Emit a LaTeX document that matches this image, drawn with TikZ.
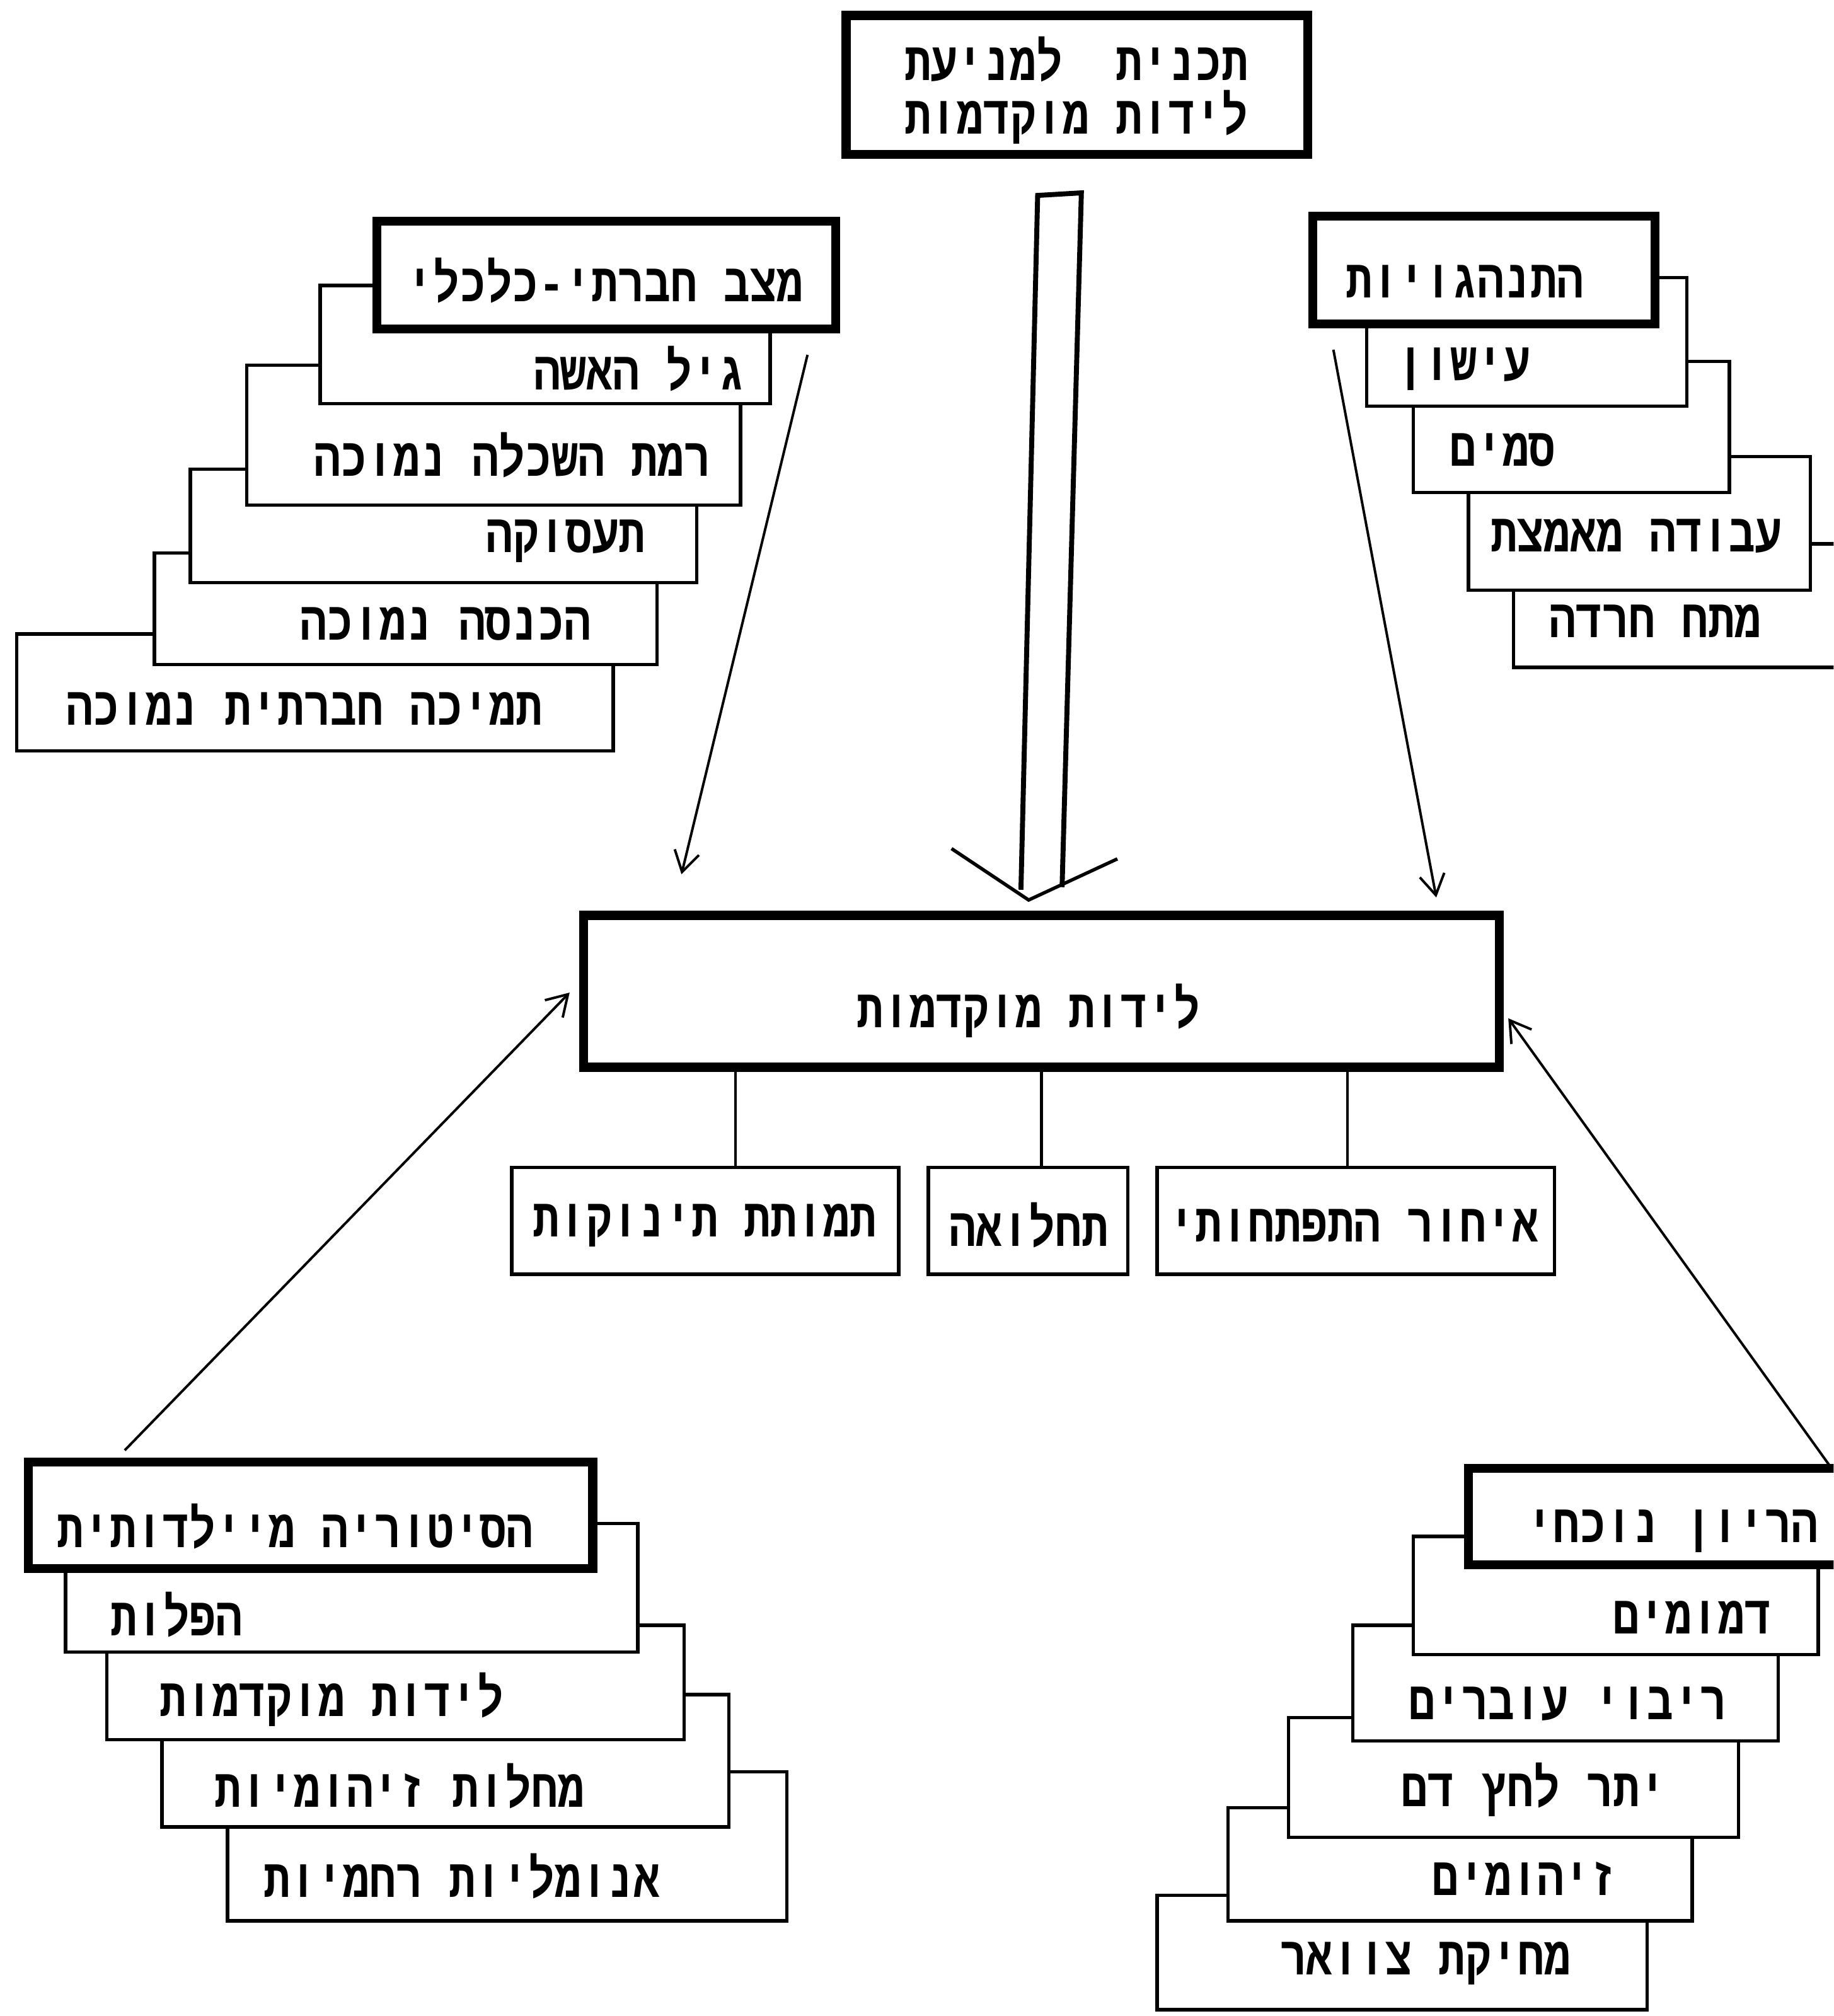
\documentclass[tikz,border=0pt]{standalone}
\usepackage{graphicx}
\usepackage{fontspec}
\usetikzlibrary{arrows.meta,fit}
\TeXXeTstate=1
\newfontfamily\hebfont[Script=Hebrew]{Liberation Mono}
\newcommand{\hb}[1]{\scalebox{1}[1.22]{\beginR #1\endR}}
\begin{document}
\begin{tikzpicture}[x=0.02cm,y=-0.02cm,
  thinbox/.style={draw,fill=white,line width=1.5pt,inner sep=0pt},
  thickbox/.style={draw,fill=white,line width=4pt,inner sep=0pt},
  lbl/.style={font=\hebfont\bfseries\fontsize{19.5}{23}\selectfont,inner sep=0pt},
  link/.style={line width=1.2pt},
  arr/.style={line width=1.1pt,-{Straight Barb[length=9pt,width=11pt,line width=1.1pt]}},
  shaft/.style={line width=2.2pt},
  vhead/.style={line width=1.5pt}]
\useasboundingbox (0,0) rectangle (1426,1568);
\clip (0,0) rectangle (1426,1568);

% ---- top box
\node[thickbox,fit={(658,12) (1017,120)}] (top) {};
\node[lbl] (top1) at (837,46) {\hb{תכנית~~למניעת}};
\node[lbl] (top2) at (837,91) {\hb{לידות מוקדמות}};

% ---- central double arrow
\coordinate (sl1) at (807,152); \coordinate (sr1) at (841,150);
\coordinate (sl2) at (794,692); \coordinate (sr2) at (826,690);
\coordinate (va) at (740,660); \coordinate (vt) at (800,700); \coordinate (vb) at (869,668);
\draw[shaft] (sl2) -- (sl1) -- (sr1) -- (sr2);
\draw[vhead] (va) -- (vt) -- (vb);

% ---- upper-left group (back to front)
\node[thinbox,fit={(13,493) (477,584)}] (tmicha) {};
\node[thinbox,fit={(120,430) (511,517)}] (hachnasa) {};
\node[thinbox,fit={(148,365) (542,453)}] (taasuka) {};
\node[thinbox,fit={(192,284) (576,393)}] (ramat) {};
\node[thinbox,fit={(249,222) (599,314)}] (gil) {};
\node[thickbox,fit={(293,172) (650,256)}] (social) {};
\node[lbl,anchor=east] (tsocial) at (625,218) {\hb{מצב חברתי-כלכלי}};
\node[lbl,anchor=east] (tgil) at (580,287) {\hb{גיל האשה}};
\node[lbl,anchor=east] (tramat) at (553,354) {\hb{רמת השכלה נמוכה}};
\node[lbl,anchor=east] (ttaasuka) at (502,421) {\hb{תעסוקה}};
\node[lbl,anchor=east] (thachnasa) at (460,485) {\hb{הכנסה נמוכה}};
\node[lbl,anchor=east] (ttmicha) at (422,551) {\hb{תמיכה חברתית נמוכה}};

% ---- upper-right group
\node[thinbox,fit={(1177,423) (1450,519)}] (matah) {};
\node[thinbox,fit={(1142,355) (1408,459)}] (avoda) {};
\node[thinbox,fit={(1099,281) (1345,383)}] (samim) {};
\node[thinbox,fit={(1063,216) (1312,316)}] (ishun) {};
\node[thickbox,fit={(1021,168) (1287,252)}] (behav) {};
\node[lbl,anchor=east] (tbehav) at (1232,219) {\hb{התנהגויות}};
\node[lbl,anchor=east] (tishun) at (1190,287) {\hb{עישון}};
\node[lbl,anchor=east] (tsamim) at (1210,350) {\hb{סמים}};
\node[lbl,anchor=east] (tavoda) at (1386,417) {\hb{עבודה מאמצת}};
\node[lbl,anchor=east] (tmatah) at (1370,483) {\hb{מתח חרדה}};

% ---- main box
\node[thickbox,fit={(454,712) (1166,830)}] (main) {};
\node[lbl] (tmain) at (800,786) {\hb{לידות מוקדמות}};

% ---- outcome boxes
\node[thinbox,fit={(398,908) (699,991)}] (mort) {};
\node[thinbox,fit={(722,908) (877,991)}] (morb) {};
\node[thinbox,fit={(900,908) (1209,991)}] (delay) {};
\node[lbl] (tmort) at (548,953) {\hb{תמותת תינוקות}};
\node[lbl] (tmorb) at (800,953) {\hb{תחלואה}};
\node[lbl] (tdelay) at (1053,953) {\hb{איחור התפתחותי}};
\draw[link] (main.south -| 572,0) -- (mort.north -| 572,0);
\draw[link] (main.south -| 810,0) -- (morb.north -| 810,0);
\draw[link] (main.south -| 1048,0) -- (delay.north -| 1048,0);

% ---- lower-left group
\node[thinbox,fit={(177,1378) (612,1494)}] (anom) {};
\node[thinbox,fit={(126,1318) (567,1421)}] (zih) {};
\node[thinbox,fit={(83,1264) (532,1353)}] (prem) {};
\node[thinbox,fit={(51,1185) (496,1285)}] (hapal) {};
\node[thickbox,fit={(22,1137) (461,1220)}] (hist) {};
\node[lbl,anchor=east] (thist) at (415,1187) {\hb{הסיטוריה מיילדותית}};
\node[lbl,anchor=east] (thapal) at (189,1256) {\hb{הפלות}};
\node[lbl,anchor=east] (tprem) at (392,1322) {\hb{לידות מוקדמות}};
\node[lbl,anchor=east] (tzih) at (455,1389) {\hb{מחלות זיהומיות}};
\node[lbl,anchor=east] (tanom) at (514,1459) {\hb{אנומליות רחמיות}};

% ---- lower-right group
\node[thinbox,fit={(900,1474) (1281,1563)}] (cerv) {};
\node[thinbox,fit={(955,1406) (1316,1494)}] (infec) {};
\node[thinbox,fit={(1002,1336) (1352,1429)}] (hyper) {};
\node[thinbox,fit={(1052,1264) (1383,1354)}] (multi) {};
\node[thinbox,fit={(1099,1195) (1414,1287)}] (bleed) {};
\node[thickbox,fit={(1142,1142) (1450,1217)}] (preg) {};
\node[lbl,anchor=east] (tpreg) at (1414,1191) {\hb{הריון נוכחי}};
\node[lbl,anchor=east] (tbleed) at (1378,1258) {\hb{דמומים}};
\node[lbl,anchor=east] (tmulti) at (1343,1325) {\hb{ריבוי עוברים}};
\node[lbl,anchor=east] (thyper) at (1296,1392) {\hb{יתר לחץ דם}};
\node[lbl,anchor=east] (tinfec) at (1258,1461) {\hb{זיהומים}};
\node[lbl,anchor=east] (tcerv) at (1222,1527) {\hb{מחיקת צוואר}};

% ---- arrows into main box
\coordinate (a1s) at (628,276); \coordinate (a1e) at (530,680);
\coordinate (a2s) at (1037,272); \coordinate (a2e) at (1117,698);
\coordinate (a3s) at (97,1128); \coordinate (a3e) at (443,772);
\coordinate (a4s) at (1423,1140); \coordinate (a4e) at (1173,792);
\draw[arr] (a1s) -- (a1e);
\draw[arr] (a2s) -- (a2e);
\draw[arr] (a3s) -- (a3e);
\draw[arr] (a4s) -- (a4e);
\end{tikzpicture}
\end{document}
